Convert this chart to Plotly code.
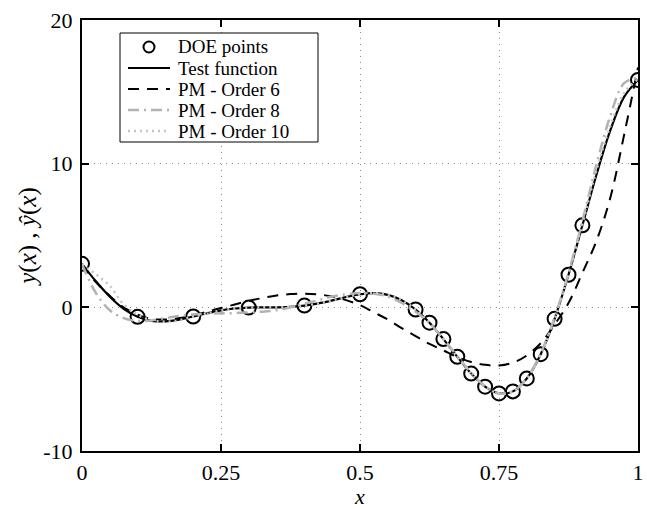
import plotly.graph_objects as go

# DOE sample points
doe_x = [0.0, 0.1, 0.2, 0.3, 0.4, 0.5, 0.6, 0.625, 0.65, 0.675, 0.7, 0.725,
         0.75, 0.775, 0.8, 0.825, 0.85, 0.875, 0.9, 1.0]
doe_y = [3.03, -0.66, -0.64, -0.02, 0.12, 0.91, -0.15, -1.07, -2.21, -3.44,
         -4.61, -5.52, -5.99, -5.85, -4.95, -3.26, -0.80, 2.27, 5.71, 15.83]

# curve sampling grid
curve_x = [0.0, 0.025, 0.05, 0.075, 0.1, 0.125, 0.15, 0.175, 0.2, 0.225, 0.25,
           0.275, 0.3, 0.325, 0.35, 0.375, 0.4, 0.425, 0.45, 0.475, 0.5, 0.525,
           0.55, 0.575, 0.6, 0.625, 0.65, 0.675, 0.7, 0.725, 0.75, 0.775, 0.8,
           0.825, 0.85, 0.875, 0.9, 0.925, 0.95, 0.975, 1.0]

test_y = [3.03, 1.81, 0.74, -0.10, -0.66, -0.94, -0.98, -0.85, -0.64, -0.41,
          -0.21, -0.08, -0.02, 0.0, 0.0, 0.03, 0.12, 0.27, 0.48, 0.72, 0.91,
          0.99, 0.87, 0.50, -0.15, -1.07, -2.21, -3.44, -4.61, -5.52, -5.99,
          -5.85, -4.95, -3.26, -0.80, 2.27, 5.71, 9.19, 12.30, 14.65, 15.83]

pm6_y = [3.0, 1.75, 0.8, 0.0, -0.5, -0.8, -0.85, -0.75, -0.55, -0.3, -0.05,
         0.2, 0.45, 0.65, 0.82, 0.92, 0.95, 0.9, 0.75, 0.5, 0.15, -0.35,
         -0.85, -1.45, -2.0, -2.55, -3.0, -3.45, -3.8, -4.0, -4.05, -3.85,
         -3.35, -2.5, -1.2, 0.3, 2.4, 4.6, 7.6, 12.0, 16.7]

pm8_y = [3.0, 1.0, -0.2, -0.75, -0.95, -0.9, -0.75, -0.6, -0.5, -0.45, -0.42,
         -0.4, -0.35, -0.3, -0.2, 0.0, 0.25, 0.5, 0.75, 0.9, 1.0, 0.95, 0.75,
         0.3, -0.3, -1.1, -2.2, -3.4, -4.55, -5.5, -6.0, -5.85, -4.95, -3.2,
         -0.7, 2.4, 6.0, 9.9, 13.3, 15.6, 16.0]

pm10_y = [3.0, 2.3, 1.5, 0.2, -0.5, -0.9, -1.0, -0.9, -0.65, -0.42, -0.22,
          -0.08, -0.02, 0.0, 0.0, 0.03, 0.12, 0.27, 0.48, 0.72, 0.91, 0.99,
          0.87, 0.5, -0.15, -1.07, -2.21, -3.44, -4.61, -5.52, -5.99, -5.85,
          -4.95, -3.26, -0.8, 2.3, 5.8, 9.5, 12.6, 14.9, 15.9]

series_names = ["DOE points", "Test function", "PM - Order 6", "PM - Order 8",
                "PM - Order 10"]

x_ticks = [0, 0.25, 0.5, 0.75, 1]
x_ticktext = ["0", "0.25", "0.5", "0.75", "1"]
y_ticks = [-10, 0, 10, 20]
y_ticktext = ["-10", "0", "10", "20"]

FONT = "Liberation Serif, Times New Roman, Times, serif"

# styles
doe_marker = dict(symbol="circle-open", size=14, color="black", line=dict(width=2))
line_styles = [
    dict(color="black", width=2.2),
    dict(color="black", width=2, dash="11px,8px"),
    dict(color="#b2b2b2", width=2.5, dash="11px,5px,2px,5px"),
    dict(color="#c4c4c4", width=2.5, dash="2px,4px"),
]

fig = go.Figure()
fig.add_trace(go.Scatter(x=doe_x, y=doe_y, mode="markers", name=series_names[0],
                         marker=doe_marker, showlegend=False))
for name, ys, st in zip(series_names[1:], [test_y, pm6_y, pm8_y, pm10_y], line_styles):
    fig.add_trace(go.Scatter(x=curve_x, y=ys, mode="lines", name=name,
                             line=dict(shape="spline", **st), showlegend=False))

axis_common = dict(showline=True, linecolor="black", linewidth=2, mirror="ticks",
                   ticks="inside", ticklen=7, tickwidth=1.5, tickcolor="black",
                   showgrid=True, gridcolor="#8a8a8a", griddash="1px,5px", gridwidth=1,
                   zeroline=False, automargin=False,
                   tickfont=dict(family=FONT, size=22, color="black"))

fig.update_xaxes(range=[0, 1], tickvals=x_ticks, ticktext=x_ticktext, ticklabelstandoff=1,
                 title=dict(text="<i>x</i>", font=dict(family=FONT, size=22, color="black"),
                            standoff=5),
                 **axis_common)
fig.update_yaxes(range=[-10, 20], tickvals=y_ticks, ticktext=y_ticktext,
                 ticklabelstandoff=3,
                 title=dict(text="<i>y</i>(<i>x</i>) , <i>\u0177</i>(<i>x</i>)",
                            font=dict(family=FONT, size=25, color="black"), standoff=0),
                 **axis_common)

# ---- legend box (drawn in paper coordinates) ----
L, R, T, B = 82, 638, 20, 451          # plot area in pixels


def px(xp):
    return (xp - L) / (R - L)


def py(yp):
    return (B - yp) / (B - T)


box = dict(x0=120, x1=318, y0=33, y1=142)
rows_y = [47, 68, 89, 110, 131]
sample_x0, sample_x1, text_x = 128, 170, 177

fig.add_shape(type="rect", xref="paper", yref="paper",
              x0=px(box["x0"]), x1=px(box["x1"]), y0=py(box["y1"]), y1=py(box["y0"]),
              line=dict(color="black", width=1), fillcolor="white", layer="above")
# circle sample
fig.add_shape(type="circle", xref="paper", yref="paper", xsizemode="pixel",
              ysizemode="pixel", xanchor=px((sample_x0 + sample_x1) / 2),
              yanchor=py(rows_y[0]), x0=-5.5, x1=5.5, y0=-5.5, y1=5.5,
              line=dict(color="black", width=2), layer="above")
for ry, st in zip(rows_y[1:], line_styles):
    fig.add_shape(type="line", xref="paper", yref="paper",
                  x0=px(sample_x0), x1=px(sample_x1), y0=py(ry), y1=py(ry),
                  line=st, layer="above")
for ry, name in zip(rows_y, series_names):
    fig.add_annotation(xref="paper", yref="paper", x=px(text_x), y=py(ry),
                       xanchor="left", yanchor="middle", text=name, showarrow=False,
                       borderpad=0, font=dict(family=FONT, size=19, color="black"))

fig.update_layout(
    width=647, height=509,
    margin=dict(l=L, r=647 - R, t=T, b=509 - B),
    paper_bgcolor="white", plot_bgcolor="white",
    showlegend=False,
)

fig.write_html("out.html")
